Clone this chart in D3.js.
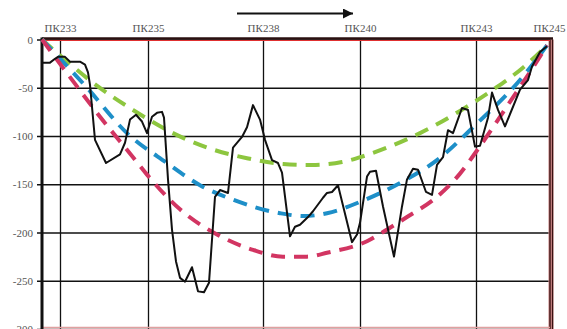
<!DOCTYPE html>
<html>
<head>
<meta charset="utf-8">
<script src="https://cdn.jsdelivr.net/npm/d3@7/dist/d3.min.js"></script>
<style>
  html, body { margin: 0; padding: 0; background: #fff; }
  svg { display: block; }
  text { font-family: "Liberation Serif", "DejaVu Serif", serif; }
</style>
</head>
<body>
<svg id="chart" width="567" height="329"></svg>
<script>
// Picket labels and their chainage along the route (m from the start of the section)
const pickets = ["ПК233", "ПК235", "ПК238", "ПК240", "ПК243", "ПК245"];
const picketPos = [18, 106, 221, 318, 434, 507];

// Depth ticks
const depthTicks = [0, -50, -100, -150, -200, -250, -300];

// Measured profile: chainage (m) and depth
const profileDist = [0, 8, 13, 16, 23, 28, 38, 43, 46, 48, 53, 64, 78, 83, 88, 94, 100, 105, 110, 115, 120, 122,
  126, 130, 134, 138, 143, 150, 156, 162, 167, 173, 178, 186, 191, 200, 205, 211, 218, 223, 230, 236, 240,
  248, 253, 258, 266, 271, 276, 281, 285, 290, 296, 310, 315, 318, 325, 328, 334, 341, 352, 360, 365, 371,
  376, 384, 390, 395, 401, 406, 411, 420, 426, 433, 438, 446, 450, 456, 463, 478, 486, 490, 498, 505];
const profileDepth = [-24, -24, -20, -18, -18, -23, -23, -26, -34, -47, -104, -128, -119, -107, -83, -78, -85, -97, -80, -76, -75, -81,
  -145, -197, -230, -247, -251, -236, -261, -262, -252, -163, -156, -159, -112, -101, -91, -68, -83, -104, -125, -128, -138,
  -204, -194, -192, -184, -178, -171, -164, -159, -158, -151, -210, -202, -190, -142, -137, -136, -173, -225, -173, -145, -134,
  -135, -158, -161, -130, -122, -94, -97, -71, -73, -111, -110, -81, -55, -73, -90, -52, -42, -28, -13, -7];

// Design curves (chainage / depth)
const greenDist  = [0, 23, 50, 91, 131, 165, 205, 241, 270, 300, 321, 350, 378, 418, 451, 480, 505];
const greenDepth = [0, -21, -44, -73, -97, -112, -123, -129, -130, -127, -121, -110, -97, -74, -52, -30, -6];

const blueDist  = [0, 45, 85, 125, 158, 191, 238, 262, 285, 321, 361, 395, 435, 478, 505];
const blueDepth = [0, -50, -97, -128, -151, -166, -180, -183, -180, -167, -147, -125, -87, -42, -6];

const redDist  = [0, 28, 58, 91, 105, 138, 175, 211, 241, 265, 285, 325, 348, 365, 395, 418, 435, 471, 491, 505];
const redDepth = [0, -39, -80, -122, -140, -176, -202, -218, -225, -225, -221, -209, -195, -184, -163, -139, -115, -60, -29, -6];

const svg = d3.select("#chart");
const mLeft = 42, mRight = 550, mTop = 39.5, mBottom = 329;

const x = d3.scaleLinear().domain([0, 508]).range([mLeft, mRight]);
const y = d3.scaleLinear().domain([0, -300]).range([mTop, mBottom]);

// Horizontal grid with left ticks
const yAxis = d3.axisLeft(y).tickValues(depthTicks).tickSize(-(mRight - mLeft)).tickPadding(9)
  .tickFormat(d => d === 0 ? "0" : String(d));
const gy = svg.append("g").attr("transform", `translate(${mLeft},0)`).call(yAxis);
gy.select(".domain").remove();
gy.selectAll(".tick line").attr("stroke", "#111").attr("stroke-width", 1.6).attr("x1", -5);
gy.selectAll(".tick text").attr("fill", "#555").attr("font-size", 11)
  .attr("font-family", "Liberation Serif, serif");

// Vertical grid at pickets, labels on top
const xAxis = d3.axisTop(x).tickValues(picketPos).tickSize(mTop - mBottom).tickPadding(6)
  .tickFormat((d, i) => pickets[i]);
const gx = svg.append("g").attr("transform", `translate(0,${mTop})`).call(xAxis);
gx.select(".domain").remove();
gx.selectAll(".tick line").attr("stroke", "#111").attr("stroke-width", 1.3);
gx.selectAll(".tick text").attr("fill", "#555").attr("font-size", 11)
  .attr("font-family", "Liberation Serif, serif").attr("dy", "-0.1em");

// Frame: thick left axis, dark top and right edges with red inner lines
svg.append("line").attr("x1", mRight + 1).attr("x2", mRight + 1).attr("y1", mTop).attr("y2", mBottom)
  .attr("stroke", "#e8a0a0").attr("stroke-width", 5);
svg.append("line").attr("x1", mRight).attr("x2", mRight).attr("y1", mTop).attr("y2", mBottom)
  .attr("stroke", "#3a1212").attr("stroke-width", 1.5);
svg.append("line").attr("x1", mRight + 2.5).attr("x2", mRight + 2.5).attr("y1", mTop).attr("y2", mBottom)
  .attr("stroke", "#3a1212").attr("stroke-width", 1.5);
svg.append("line").attr("x1", mLeft).attr("x2", mRight + 3).attr("y1", mTop - 1).attr("y2", mTop - 1)
  .attr("stroke", "#2a1010").attr("stroke-width", 2.5);
svg.append("line").attr("x1", mLeft).attr("x2", mRight).attr("y1", mTop + 1).attr("y2", mTop + 1)
  .attr("stroke", "#e03030").attr("stroke-width", 1);
svg.append("line").attr("x1", mLeft).attr("x2", mRight).attr("y1", y(-300) - 1.5).attr("y2", y(-300) - 1.5)
  .attr("stroke", "#e0a0a0").attr("stroke-width", 1.5);
svg.append("line").attr("x1", mLeft).attr("x2", mLeft).attr("y1", mTop - 2).attr("y2", mBottom)
  .attr("stroke", "#111").attr("stroke-width", 3);

// Design curves
const curveLine = d3.line().x(d => x(d[0])).y(d => y(d[1])).curve(d3.curveMonotoneX);
const designs = [
  { dist: greenDist, depth: greenDepth, color: "#8dc63f" },
  { dist: blueDist, depth: blueDepth, color: "#1e8fc8" },
  { dist: redDist, depth: redDepth, color: "#d23562" }
];
designs.forEach(s => {
  svg.append("path")
    .datum(d3.zip(s.dist, s.depth))
    .attr("d", curveLine)
    .attr("fill", "none")
    .attr("stroke", s.color)
    .attr("stroke-width", 4)
    .attr("stroke-dasharray", "14 9");
});

// Measured profile
const profLine = d3.line().x(d => x(d[0])).y(d => y(d[1]));
svg.append("path")
  .datum(d3.zip(profileDist, profileDepth))
  .attr("d", profLine)
  .attr("fill", "none")
  .attr("stroke", "#111")
  .attr("stroke-width", 2)
  .attr("stroke-linejoin", "round");

// Direction arrow
svg.append("defs").append("marker")
  .attr("id", "head").attr("viewBox", "0 0 10 10").attr("refX", 10).attr("refY", 5)
  .attr("markerWidth", 7).attr("markerHeight", 5).attr("markerUnits", "strokeWidth").attr("orient", "auto")
  .append("path").attr("d", "M0,0L10,5L0,10Z").attr("fill", "#111");
svg.append("line").attr("x1", 237).attr("x2", 353).attr("y1", 13.5).attr("y2", 13.5)
  .attr("stroke", "#111").attr("stroke-width", 2).attr("marker-end", "url(#head)");
</script>
</body>
</html>
